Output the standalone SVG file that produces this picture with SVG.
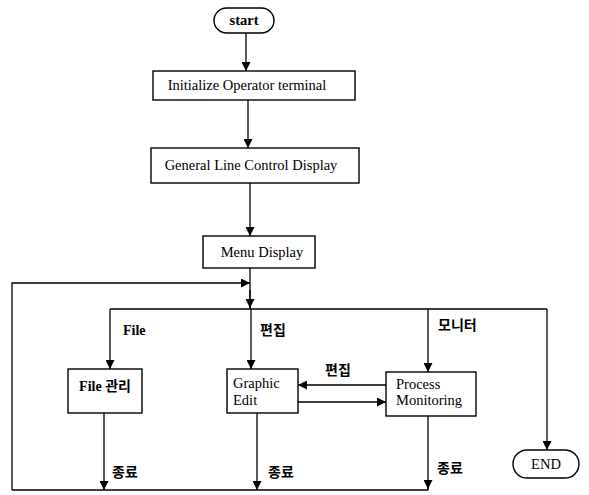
<svg xmlns="http://www.w3.org/2000/svg" width="589" height="495" viewBox="0 0 589 495">
<defs>
<marker id="ah" viewBox="0 0 10 10" refX="10" refY="5" markerWidth="9" markerHeight="9" markerUnits="userSpaceOnUse" orient="auto">
<path d="M0,0 L10,5 L0,10 z" fill="#000"/>
</marker>
<style>
.box{fill:#fff;stroke:#000;stroke-width:1.4}
.ln{fill:none;stroke:#000;stroke-width:1.3}
.arr{fill:none;stroke:#000;stroke-width:1.3;marker-end:url(#ah)}
.t{font-family:"Liberation Serif",serif;font-size:14.5px;fill:#000}
.k{font-family:"Liberation Serif","Noto Sans CJK KR",serif;font-size:14px;font-weight:bold;fill:#000}
</style>
</defs>
<rect width="589" height="495" fill="#fff"/>
<g id="connectors">
<path class="arr" d="M246,33 V71"/>
<path class="arr" d="M248,100 V148"/>
<path class="arr" d="M250,183 V236"/>
<path class="ln" d="M250,268 V309"/>
<path class="arr" d="M250,290 V308"/>
<path class="arr" d="M12,490 V283 H250"/>
<path class="ln" d="M110,309 H547"/>
<path class="arr" d="M110,309 V369"/>
<path class="arr" d="M251,309 V369"/>
<path class="arr" d="M428,309 V372"/>
<path class="arr" d="M547,309 V450"/>
<path class="arr" d="M386,385 H298"/>
<path class="arr" d="M298,402 H386"/>
<path class="arr" d="M104,413 V490"/>
<path class="arr" d="M257,413 V490"/>
<path class="arr" d="M428,416 V489"/>
<path class="ln" d="M12,490 H428 V488"/>
<text class="k" x="123" y="335" font-size="13">File</text>
<text class="k" x="260" y="335">편집</text>
<text class="k" x="438" y="330">모니터</text>
<text class="k" x="325" y="375">편집</text>
<text class="k" x="112" y="477">종료</text>
<text class="k" x="268" y="477">종료</text>
<text class="k" x="437" y="473">종료</text>
</g>
<g id="start">
<rect class="box" x="214" y="8" width="60" height="25" rx="12.5"/>
<text class="t" x="244" y="25" text-anchor="middle" font-weight="bold" font-size="12">start</text>
</g>
<g id="init">
<rect class="box" x="153" y="71" width="202" height="29"/>
<text class="t" x="247" y="90" text-anchor="middle">Initialize Operator terminal</text>
</g>
<g id="general">
<rect class="box" x="151" y="148" width="208" height="35"/>
<text class="t" x="251" y="170" text-anchor="middle">General Line Control Display</text>
</g>
<g id="menu">
<rect class="box" x="203" y="236" width="112" height="32"/>
<text class="t" x="262" y="257" text-anchor="middle">Menu Display</text>
</g>
<g id="file">
<rect class="box" x="68" y="369" width="74" height="44"/>
<text class="k" x="105" y="391" text-anchor="middle" font-weight="normal">File 관리</text>
</g>
<g id="graphic">
<rect class="box" x="227" y="369" width="71" height="44"/>
<text class="t" x="233" y="388">Graphic</text>
<text class="t" x="233" y="405">Edit</text>
</g>
<g id="process">
<rect class="box" x="386" y="372" width="90" height="44"/>
<text class="t" x="396" y="389">Process</text>
<text class="t" x="396" y="405">Monitoring</text>
</g>
<g id="end">
<rect class="box" x="513" y="450" width="66" height="28" rx="14"/>
<text class="t" x="546" y="469" text-anchor="middle" font-size="13">END</text>
</g>
</svg>
